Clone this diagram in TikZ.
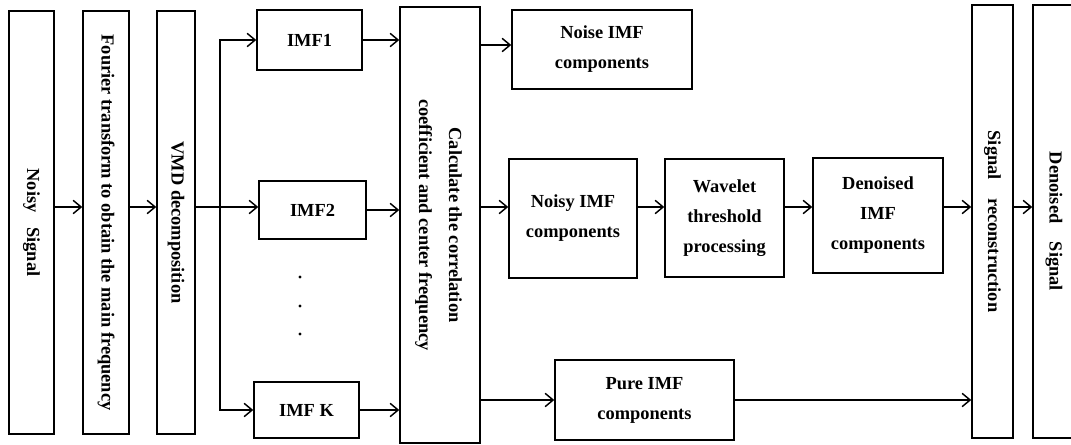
\documentclass[tikz,border=0pt]{standalone}
\usepackage{fontspec}
\setmainfont{Liberation Serif}
\usetikzlibrary{arrows.meta}

\begin{document}
\begin{tikzpicture}[x=0.75pt,y=-0.75pt,
    box/.style={draw, line width=1.1pt, inner sep=0pt, align=center,
        font=\fontsize{13.8}{22.5}\selectfont\bfseries},
    link/.style={line width=1.1pt},
    >={Straight Barb[length=6pt,width=10pt]}]
    \useasboundingbox (0,0) rectangle (1071,444);

    \node[box, minimum width=33.75pt, minimum height=317.25pt] (noisy) at (31.5,222.5)
        {\rotatebox{-90}{Noisy\hspace{0.8em}Signal}};
    \node[box, minimum width=34.5pt, minimum height=317.25pt] (fourier) at (106,222.5)
        {\rotatebox{-90}{Fourier transform to obtain the main frequency}};
    \node[box, minimum width=28.5pt, minimum height=317.25pt] (vmd) at (176,222.5)
        {\rotatebox{-90}{VMD decomposition}};

    \node[box, minimum width=78.75pt, minimum height=45pt] (imf1) at (309.5,40) {IMF1};
    \node[box, minimum width=80.25pt, minimum height=43.5pt] (imf2) at (312.5,210) {IMF2};
    \node[box, minimum width=78.75pt, minimum height=42pt] (imfk) at (306.5,410) {IMF K};

    \node[box, minimum width=60pt, minimum height=327pt] (calc) at (440,225)
        {\rotatebox{-90}{\begin{tabular}{@{}c@{}}Calculate the correlation\\
        coefficient and center frequency\end{tabular}}};

    \node[box, minimum width=135pt, minimum height=59.25pt] (noise) at (602,49.5)
        {Noise IMF\\components};
    \node[box, minimum width=96pt, minimum height=89.25pt] (noisyimf) at (573,218.5)
        {Noisy IMF\\components};
    \node[box, minimum width=89.25pt, minimum height=88.5pt] (wavelet) at (724.5,218)
        {Wavelet\\threshold\\processing};
    \node[box, minimum width=97.5pt, minimum height=86.25pt] (denoised) at (878,215.5)
        {Denoised\\IMF\\components};
    \node[box, minimum width=134.25pt, minimum height=60pt] (pure) at (644.5,400)
        {Pure IMF\\components};

    \node[box, minimum width=30.75pt, minimum height=324.75pt] (recon) at (992.5,221.5)
        {\rotatebox{-90}{Signal\hspace{1em}reconstruction}};
    \node[box, minimum width=31.5pt, minimum height=324.75pt] (out) at (1054,221.5)
        {\rotatebox{-90}{Denoised\hspace{1em}Signal}};

    % main line
    \coordinate (axis) at (0,207);
    \coordinate (split) at (220,207);
    \coordinate (upper) at (0,45);

    \draw[link,->] (noisy.east |- axis) -- (fourier.west |- axis);
    \draw[link,->] (fourier.east |- axis) -- (vmd.west |- axis);
    \draw[link] (vmd.east |- axis) -- (split);
    \draw[link,->] (split) |- (imf1.west);
    \draw[link,->] (split) -- (imf2.west |- axis);
    \draw[link,->] (split) |- (imfk.west);

    \foreach \y in {277,306,334} \fill (300,\y) circle (1.2pt);

    \draw[link,->] (imf1.east) -- (calc.west |- imf1.east);
    \draw[link,->] (imf2.east) -- (calc.west |- imf2.east);
    \draw[link,->] (imfk.east) -- (calc.west |- imfk.east);

    \draw[link,->] (calc.east |- upper) -- (noise.west |- upper);
    \draw[link,->] (calc.east |- axis) -- (noisyimf.west |- axis);
    \draw[link,->] (calc.east |- pure.west) -- (pure.west);
    \draw[link,->] (noisyimf.east |- axis) -- (wavelet.west |- axis);
    \draw[link,->] (wavelet.east |- axis) -- (denoised.west |- axis);
    \draw[link,->] (denoised.east |- axis) -- (recon.west |- axis);
    \draw[link,->] (pure.east) -- (recon.west |- pure.east);
    \draw[link,->] (recon.east |- axis) -- (out.west |- axis);
\end{tikzpicture}
\end{document}
